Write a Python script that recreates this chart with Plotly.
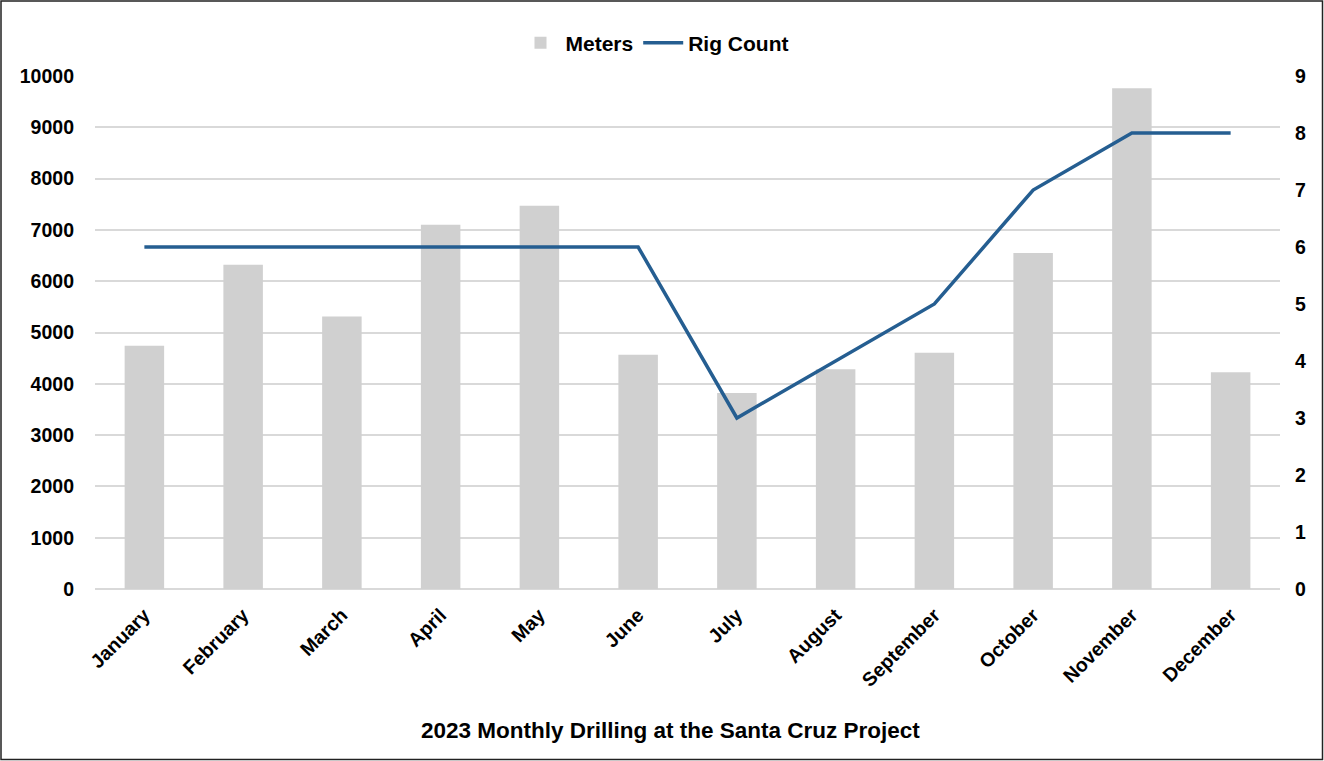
import plotly.graph_objects as go

months = ["January", "February", "March", "April", "May", "June", "July",
          "August", "September", "October", "November", "December"]
meters = [4740, 6320, 5310, 7100, 7470, 4565, 3820, 4285, 4605, 6550, 9760, 4225]
rig_count = [6, 6, 6, 6, 6, 6, 3, 4, 5, 7, 8, 8]

FONT = "Liberation Sans, Arial, sans-serif"

fig = go.Figure()
fig.add_trace(go.Bar(x=months, y=meters, name="Meters",
                     marker=dict(color="#D0D0D0", line=dict(width=0)),
                     yaxis="y"))
fig.add_trace(go.Scatter(x=months, y=rig_count, name="Rig Count", mode="lines",
                         line=dict(color="#255E91", width=3.5),
                         yaxis="y2"))

W, H = 1324, 761
L, R, T, B = 95, 44, 76, 172
pw, ph = W - L - R, H - T - B

def px_x(p):
    return (p - L) / pw

def px_y(p):
    return (H - B - p) / ph

fig.update_layout(
    width=W, height=H,
    margin=dict(l=L, r=R, t=T, b=B),
    paper_bgcolor="white", plot_bgcolor="white",
    bargap=0.6,
    font=dict(family=FONT, color="black", size=17),
    xaxis=dict(tickangle=-45, tickfont=dict(family=FONT, size=19.5, color="black", weight="bold"),
               showgrid=False, showline=False, ticks="", ticklabelstandoff=10),
    yaxis=dict(range=[0, 10000], dtick=1000, tickformat="d",
               showgrid=True, gridcolor="#D9D9D9", gridwidth=1.5,
               zeroline=True, zerolinecolor="#D9D9D9", zerolinewidth=1.5,
               tickfont=dict(family=FONT, size=19.5, color="black", weight="bold"),
               ticks="", ticklabelstandoff=20),
    yaxis2=dict(range=[0, 9], dtick=1, overlaying="y", side="right", showgrid=False,
                zeroline=False,
                tickfont=dict(family=FONT, size=19.5, color="black", weight="bold"),
                ticks="", ticklabelstandoff=14),
    legend=dict(orientation="h", x=px_x(655), xanchor="center", y=px_y(43), yanchor="middle",
                font=dict(family=FONT, size=21, color="black", weight="bold"),
                itemwidth=40, traceorder="normal", bgcolor="rgba(0,0,0,0)"),
    showlegend=True,
    annotations=[dict(text="<b>2023 Monthly Drilling at the Santa Cruz Project</b>",
                      xref="paper", yref="paper", x=px_x(670), y=px_y(731),
                      xanchor="center", yanchor="middle", showarrow=False,
                      font=dict(family=FONT, size=22.5, color="black"))],
    shapes=[dict(type="rect", xref="paper", yref="paper",
                 x0=px_x(1), x1=px_x(1322.5), y0=px_y(759.5), y1=px_y(1),
                 line=dict(color="#222222", width=1.5), layer="above")],
)

fig.write_html("out.html", config={"displayModeBar": False},
               post_script="document.body.style.margin='0';document.body.style.overflow='hidden';")
